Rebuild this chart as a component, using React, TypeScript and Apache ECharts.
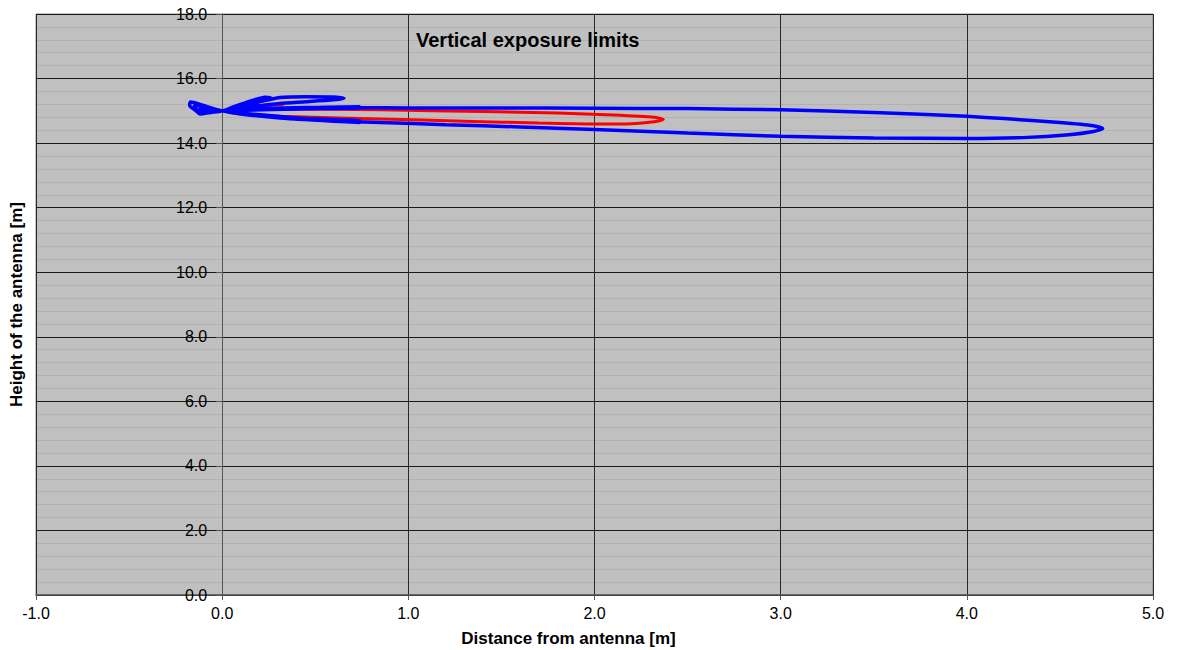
import React, { useEffect, useRef } from "react";
import * as echarts from "echarts";

// Axis ranges / ticks
const xMin = -1;
const xMax = 5;
const xStep = 1;
const yMin = 0;
const yMax = 18;
const yStep = 2;

const titleText = "Vertical exposure limits";
const xTitle = "Distance from antenna [m]";
const yTitle = "Height of the antenna [m]";

// Blue pattern, [distance, height]
const blueMainLobe: number[][] = [
  [0, 15], [0.1, 14.9], [0.31, 14.78], [0.6, 14.69], [0.85, 14.64], [1.2, 14.57],
  [1.6, 14.5], [2.0, 14.42], [2.5, 14.31], [3.0, 14.21], [3.5, 14.16], [4.0, 14.14],
  [4.3, 14.17], [4.55, 14.26], [4.68, 14.36], [4.73, 14.45], [4.68, 14.54],
  [4.5, 14.64], [4.2, 14.76], [4.0, 14.83], [3.5, 14.95], [3.0, 15.03], [2.5, 15.07],
  [2.0, 15.08], [1.5, 15.09], [1.0, 15.09], [0.74, 15.1], [0.45, 15.1], [0.2, 15.06], [0, 15],
];
const blueLowerStub: number[][] = [
  [0.35, 14.76], [0.74, 14.64], [0.74, 14.69], [0.4, 14.78], [0, 15],
];
const blueUpperStub: number[][] = [
  [0.4, 15.09], [0.74, 15.13], [0.74, 15.09], [0.4, 15.06], [0, 15],
];
const blueLongSideLobe: number[][] = [
  [0.08, 15.1], [0.18, 15.25], [0.31, 15.41], [0.45, 15.44], [0.6, 15.43],
  [0.655, 15.39], [0.6, 15.34], [0.45, 15.28], [0.31, 15.23], [0.15, 15.12], [0, 15],
];
const blueShortSideLobe: number[][] = [
  [0.1, 15.15], [0.2, 15.3], [0.26, 15.4], [0.23, 15.42], [0.15, 15.3], [0.05, 15.1], [0, 15],
];
const blueBackLobe: number[][] = [
  [-0.08, 15.13], [-0.17, 15.27], [-0.175, 15.2], [-0.17, 15.13], [-0.14, 15.0],
  [-0.12, 14.9], [-0.06, 14.95], [0, 15], [-0.15, 15.18], [-0.14, 15.05],
  [-0.1, 14.96], [0, 15], [-0.12, 15.12], [-0.1, 15.02], [0, 15],
];

// Red pattern
const redMainLobe: number[][] = [
  [0, 15], [0.1, 14.9], [0.31, 14.83], [0.85, 14.75], [1.3, 14.68], [1.7, 14.62],
  [2.0, 14.59], [2.2, 14.6], [2.32, 14.66], [2.37, 14.73], [2.32, 14.8], [2.1, 14.87],
  [1.8, 14.93], [1.4, 14.98], [0.85, 15.03], [0.31, 15.06], [0.1, 15.03], [0, 15],
];
const redSideLobe: number[][] = [
  [0.12, 15.1], [0.25, 15.17], [0.33, 15.2], [0.25, 15.19], [0.12, 15.12], [0, 15],
];

const blueData = [
  ...blueMainLobe,
  ...blueLowerStub,
  ...blueUpperStub,
  ...blueLongSideLobe,
  ...blueShortSideLobe,
  ...blueBackLobe,
];
const redData = [...redMainLobe, ...redSideLobe];

const FONT = "'Liberation Sans', Arial, sans-serif";

const W = 1178;
const H = 650;
const GRID_LEFT = 36;
const GRID_RIGHT = 25;
// place the y axis where x = 0 crosses the plot
const yAxisOffset = -((0 - xMin) / (xMax - xMin)) * (W - GRID_LEFT - GRID_RIGHT);

export default function App() {
  const ref = useRef<HTMLDivElement>(null);
  useEffect(() => {
    if (!ref.current) return;
    const chart = echarts.init(ref.current, undefined, { renderer: "svg" });
    chart.setOption({
      animation: false,
      textStyle: { fontFamily: FONT },
      title: {
        text: titleText,
        left: 416,
        top: 30,
        padding: 0,
        textStyle: { fontFamily: FONT, fontSize: 20, fontWeight: "bold", color: "#000" },
      },
      grid: {
        left: GRID_LEFT,
        right: GRID_RIGHT,
        top: 14,
        bottom: 55,
        containLabel: false,
        outerBoundsMode: "none",
        show: true,
        backgroundColor: "#c0c0c0",
        borderColor: "#8a8a8a",
        borderWidth: 1,
      },
      xAxis: {
        type: "value",
        min: xMin,
        max: xMax,
        interval: xStep,
        name: xTitle,
        nameLocation: "middle",
        nameGap: 35,
        nameTextStyle: {
          fontFamily: FONT,
          fontSize: 17,
          fontWeight: "bold",
          color: "#000",
          padding: [0, 52, 0, 0],
        },
        axisLine: { show: true, onZero: false, lineStyle: { color: "#555", width: 1.5 } },
        axisTick: { show: true, length: 5, lineStyle: { color: "#555" } },
        axisLabel: {
          fontFamily: FONT,
          fontSize: 16,
          color: "#000",
          margin: 10,
          formatter: (v: number) => v.toFixed(1),
        },
        splitLine: { show: true, lineStyle: { color: "#2a2a2a", width: 1 } },
      },
      yAxis: {
        type: "value",
        min: yMin,
        max: yMax,
        interval: yStep,
        position: "left",
        offset: yAxisOffset,
        name: yTitle,
        nameLocation: "middle",
        nameGap: 197,
        nameTextStyle: { fontFamily: FONT, fontSize: 17, fontWeight: "bold", color: "#000" },
        axisLine: { show: true, onZero: false, lineStyle: { color: "#555", width: 1 } },
        axisTick: { show: true, length: 6, lineStyle: { color: "#555" } },
        axisLabel: {
          fontFamily: FONT,
          fontSize: 16,
          color: "#000",
          margin: 15,
          formatter: (v: number) => v.toFixed(1),
        },
        splitLine: { show: true, lineStyle: { color: "#1a1a1a", width: 1 } },
        minorTick: { show: false, splitNumber: 5 },
        minorSplitLine: { show: true, lineStyle: { color: "#b2b2b2", width: 1 } },
      },
      series: [
        {
          name: "Red limit",
          type: "line",
          data: redData,
          showSymbol: false,
          symbol: "none",
          smooth: 0.2,
          lineStyle: { color: "#ff0000", width: 3 },
          z: 3,
        },
        {
          name: "Blue limit",
          type: "line",
          data: blueData,
          showSymbol: false,
          symbol: "none",
          smooth: 0.2,
          lineStyle: { color: "#0000ff", width: 3.5 },
          z: 4,
        },
      ],
    });
    return () => chart.dispose();
  }, []);
  return (
    <div
      ref={ref}
      style={{ position: "absolute", left: 0, top: 0, width: W, height: H }}
    />
  );
}
